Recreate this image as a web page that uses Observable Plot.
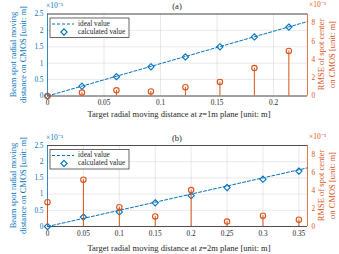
<!DOCTYPE html>
<html><head><meta charset="utf-8">
<script src="https://cdn.jsdelivr.net/npm/d3@7"></script>
<script src="https://cdn.jsdelivr.net/npm/@observablehq/plot@0.6"></script>
<style>
body{margin:0;background:#fff;}
#c{position:relative;width:339px;height:254px;overflow:hidden;}
.pn{position:absolute;left:0;width:339px;height:127px;}
.pn svg{position:absolute;left:0;top:0;}
</style>
</head><body><div id="c"></div>
<script>
// ---- data ----
const xA = [0, 0.0305, 0.061, 0.0915, 0.122, 0.1525, 0.183, 0.2135];
const calcA = [0, 0.30e-3, 0.59e-3, 0.89e-3, 1.19e-3, 1.50e-3, 1.80e-3, 2.10e-3];
const rmseA = [0, 0.38e-5, 0.62e-5, 0.50e-5, 0.97e-5, 1.55e-5, 3.06e-5, 4.94e-5];
const idealXA = [0, 0.23];
const idealYA = [0, 2.27e-3];

const xB = [0, 0.05, 0.1, 0.15, 0.2, 0.25, 0.3, 0.35];
const calcB = [0, 0.29e-3, 0.45e-3, 0.73e-3, 0.95e-3, 1.20e-3, 1.46e-3, 1.71e-3];
const rmseB = [2.7e-5, 5.2e-5, 2.15e-5, 1.12e-5, 4.05e-5, 0.55e-5, 1.2e-5, 0.75e-5];
const idealXB = [0, 0.362];
const idealYB = [0, 1.81e-3];

const xTicksA = [0, 0.05, 0.1, 0.15, 0.2];
const xTicksB = [0, 0.05, 0.1, 0.15, 0.2, 0.25, 0.3, 0.35];
const leftTicks = [0, 0.5e-3, 1e-3, 1.5e-3, 2e-3, 2.5e-3];
const rightTicks = [0, 2e-5, 4e-5, 6e-5, 8e-5];

const BLUE = "#0072BD", ORANGE = "#D95319", DARK = "#262626";
const FONT = "Liberation Serif, Times New Roman, serif";

function panel(o) {
  const W = 339, H = 127, mL = 47, mR = 32;
  const div = document.createElement("div");
  div.className = "pn"; div.style.top = o.top + "px";
  document.getElementById("c").appendChild(div);
  const ideal = o.idealX.map((x, i) => ({x, y: o.idealY[i]}));
  const pts = o.x.map((x, i) => ({x, calc: o.calc[i], rmse: o.rmse[i]}));
  const common = {width: W, height: H, marginLeft: mL, marginRight: mR, marginTop: o.mt, marginBottom: o.mb,
    style: {fontFamily: FONT, fontSize: "7.3px", background: "transparent", overflow: "visible"}};
  const left = Plot.plot({...common,
    x: {domain: o.xdom, label: null},
    y: {domain: [0, 2.5e-3], label: null},
    marks: [
      Plot.gridX(o.xTicks, {stroke: "#000", strokeOpacity: 0.09}),
      Plot.gridY(leftTicks, {stroke: "#000", strokeOpacity: 0.09}),
      Plot.axisX(o.xTicks, {tickSize: 0, tickPadding: 4, color: DARK, tickFormat: d => String(+d.toFixed(2))}),
      Plot.axisY(leftTicks, {anchor: "left", tickSize: 0, tickPadding: 4, color: BLUE, tickFormat: d => String(+(d * 1e3).toFixed(1))}),
      Plot.ruleY([0], {stroke: DARK, strokeWidth: 0.8}),
      Plot.ruleY([2.5e-3], {stroke: DARK, strokeWidth: 0.8}),
      Plot.ruleX([o.xdom[0]], {stroke: BLUE, strokeWidth: 0.8}),
      Plot.line(ideal, {x: "x", y: "y", stroke: BLUE, strokeWidth: 1, strokeDasharray: "3,2"}),
      Plot.dot(pts, {x: "x", y: "calc", symbol: "diamond2", r: 2.8, stroke: BLUE, strokeWidth: 1.1, fill: "none"})
    ]
  });
  const right = Plot.plot({...common,
    x: {domain: o.xdom, axis: null},
    y: {domain: [0, 9e-5], label: null, axis: null},
    marks: [
      Plot.axisY(rightTicks, {anchor: "right", tickSize: 0, tickPadding: 4, color: ORANGE, tickFormat: d => String(Math.round(d * 1e5))}),
      Plot.ruleX([o.xdom[1]], {stroke: ORANGE, strokeWidth: 0.8}),
      Plot.ruleX(pts, {x: "x", y1: 0, y2: "rmse", stroke: ORANGE, strokeWidth: 1}),
      Plot.dot(pts, {x: "x", y: "rmse", r: 2.7, stroke: ORANGE, strokeWidth: 1.1, fill: "none"})
    ]
  });
  div.appendChild(left);
  div.appendChild(right);

  const s = d3.select(left);
  const fTop = o.mt, fBot = H - o.mb, cy = (fTop + fBot) / 2, cx = (mL + (W - mR)) / 2;
  // title
  s.append("text").attr("x", cx).attr("y", o.titleY).attr("text-anchor", "middle").attr("dominant-baseline", "middle")
    .attr("font-size", 8.5).attr("fill", DARK).text(o.title);
  // exponents
  s.append("text").attr("x", mL - 1).attr("y", fTop - 7).attr("text-anchor", "start").attr("dominant-baseline", "middle")
    .attr("font-size", 7.5).attr("fill", BLUE).text("×10⁻³");
  s.append("text").attr("x", W - mR + 2).attr("y", fTop - 8).attr("text-anchor", "start").attr("dominant-baseline", "middle")
    .attr("font-size", 7.5).attr("fill", ORANGE).text("×10⁻⁵");
  // left y label
  const yl = s.append("text").attr("transform", `translate(13.5,${cy}) rotate(-90)`).attr("text-anchor", "middle")
    .attr("dominant-baseline", "middle").attr("font-size", 8.5).attr("fill", BLUE);
  yl.append("tspan").attr("x", 0).attr("y", 0).text("Beam spot radial moving");
  yl.append("tspan").attr("x", 0).attr("y", 10.8).text("distance on CMOS [unit: m]");
  // right y label
  const yr = s.append("text").attr("transform", `translate(321.8,${cy}) rotate(-90)`).attr("text-anchor", "middle")
    .attr("dominant-baseline", "middle").attr("font-size", 8.5).attr("fill", ORANGE);
  yr.append("tspan").attr("x", 0).attr("y", 0).text("RMSE of spot center");
  yr.append("tspan").attr("x", 0).attr("y", 11.5).text("on CMOS [unit: m]");
  // x label
  const xl = s.append("text").attr("x", cx + 2).attr("y", fBot + o.xlabOff).attr("text-anchor", "middle")
    .attr("dominant-baseline", "middle").attr("font-size", 8.5).attr("fill", DARK);
  xl.append("tspan").text("Target radial moving distance at ");
  xl.append("tspan").attr("font-style", "italic").text("z");
  xl.append("tspan").text(o.xlabTail);
  // legend
  const lx = 50, ly = fTop + 4.5;
  const sr = d3.select(right);
  const lg = sr.append("g");
  lg.append("rect").attr("x", lx).attr("y", ly).attr("width", 79).attr("height", 19.5)
    .attr("fill", "#fff").attr("stroke", DARK).attr("stroke-width", 0.7);
  lg.append("line").attr("x1", lx + 2).attr("x2", lx + 24).attr("y1", ly + 6).attr("y2", ly + 6)
    .attr("stroke", BLUE).attr("stroke-dasharray", "3,2");
  lg.append("path").attr("d", d3.symbol(d3.symbolDiamond2, 2.8 * 2.8 * Math.PI)())
    .attr("transform", `translate(${lx + 14},${ly + 14})`).attr("fill", "none").attr("stroke", BLUE).attr("stroke-width", 1.1);
  lg.append("text").attr("x", lx + 28).attr("y", ly + 6).attr("text-anchor", "start").attr("dominant-baseline", "middle").attr("font-size", 7.3).attr("fill", DARK).text("ideal value");
  lg.append("text").attr("x", lx + 28).attr("y", ly + 14.2).attr("text-anchor", "start").attr("dominant-baseline", "middle").attr("font-size", 7.3).attr("fill", DARK).text("calculated value");
}

panel({top: 0, mt: 13.5, mb: 31.5, xdom: [0, 0.23], xTicks: xTicksA, x: xA, calc: calcA, rmse: rmseA,
  idealX: idealXA, idealY: idealYA, title: "(a)", titleY: 7, xlabOff: 19.5, xlabTail: "=1m plane [unit: m]"});
panel({top: 127, mt: 18, mb: 28, xdom: [0, 0.362], xTicks: xTicksB, x: xB, calc: calcB, rmse: rmseB,
  idealX: idealXB, idealY: idealYB, title: "(b)", titleY: 12.5, xlabOff: 22.5, xlabTail: "=2m plane [unit: m]"});
</script>
</body></html>
